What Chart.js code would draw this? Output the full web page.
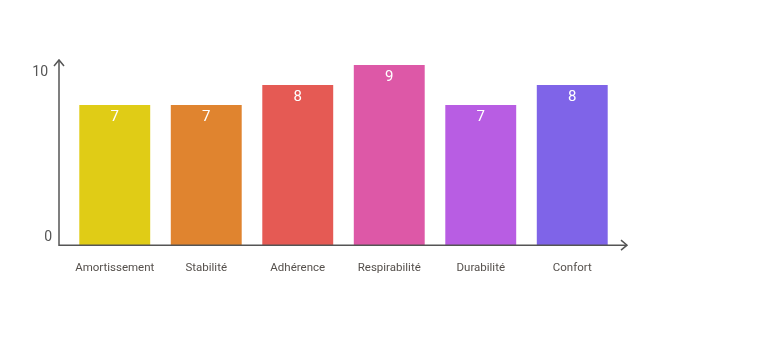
<!DOCTYPE html>
<html>
<head>
<meta charset="utf-8">
<script src="https://cdn.jsdelivr.net/npm/chart.js@4/dist/chart.umd.min.js"></script>
<style>
html,body{margin:0;padding:0;background:#fff;}
#wrap{width:768px;height:355px;position:relative;}
</style>
</head>
<body>
<div id="wrap"><canvas id="c"></canvas></div>
<script>
const categories = ["Amortissement","Stabilité","Adhérence","Respirabilité","Durabilité","Confort"];
const values = [7, 7, 8, 9, 7, 8];
const barColors = ["#E0CC16","#E0842F","#E55A54","#DD58A7","#B85DE3","#7F64E8"];
const yTickValues = [0, 10];
const yTickLabels = ["0", "10"];
const yAxisMax = 9.25;

const axisColor = "#555555";

const axesPlugin = {
  id: "axesPlugin",
  afterDatasetsDraw(chart) {
    const ctx = chart.ctx;
    const ys = chart.scales.y;
    const area = chart.chartArea;
    const x0 = area.left - 10;
    const yBottom = ys.getPixelForValue(0);
    const yTop = area.top;
    const xRight = area.right + 9;
    ctx.save();
    ctx.strokeStyle = axisColor;
    ctx.lineWidth = 1.5;
    ctx.beginPath();
    ctx.moveTo(x0, yTop);
    ctx.lineTo(x0, yBottom);
    ctx.lineTo(xRight, yBottom);
    ctx.stroke();
    // arrows
    ctx.beginPath();
    ctx.moveTo(x0 - 5, yTop + 6);
    ctx.lineTo(x0, yTop);
    ctx.lineTo(x0 + 5, yTop + 6);
    ctx.moveTo(xRight - 6, yBottom - 5);
    ctx.lineTo(xRight, yBottom);
    ctx.lineTo(xRight - 6, yBottom + 5);
    ctx.stroke();
    // y tick labels
    ctx.fillStyle = "#555555";
    ctx.font = "14px Roboto";
    ctx.textAlign = "right";
    ctx.textBaseline = "middle";
    yTickValues.forEach((v, i) => {
      let py = ys.getPixelForValue(Math.min(v, yAxisMax));
      let px = x0 - 11;
      if (v <= 0) { py -= 8; px = x0 - 7; } else { py += 12; }
      ctx.fillText(yTickLabels[i], px, py);
    });
    // value labels
    const meta = chart.getDatasetMeta(0);
    ctx.fillStyle = "#ffffff";
    ctx.font = "15px Roboto";
    ctx.textAlign = "center";
    meta.data.forEach((bar, i) => {
      ctx.fillText(String(values[i]), bar.x, bar.y + 12);
    });
    ctx.restore();
  }
};

new Chart(document.getElementById("c"), {
  type: "bar",
  data: {
    labels: categories,
    datasets: [{
      data: values,
      backgroundColor: barColors,
      borderWidth: 0,
      barPercentage: 0.775,
      categoryPercentage: 1.0
    }]
  },
  options: {
    responsive: true,
    maintainAspectRatio: false,
    animation: false,
    layout: { padding: { left: 69, right: 150, top: 60, bottom: 64 } },
    plugins: { legend: { display: false }, tooltip: { enabled: false } },
    scales: {
      x: {
        grid: { display: false, drawTicks: false },
        border: { display: false },
        ticks: { color: "#55504c", font: { family: "Roboto", size: 11.5 }, padding: 16, maxRotation: 0 }
      },
      y: {
        display: false,
        min: 0,
        max: yAxisMax
      }
    }
  },
  plugins: [axesPlugin]
});
</script>
</body>
</html>
